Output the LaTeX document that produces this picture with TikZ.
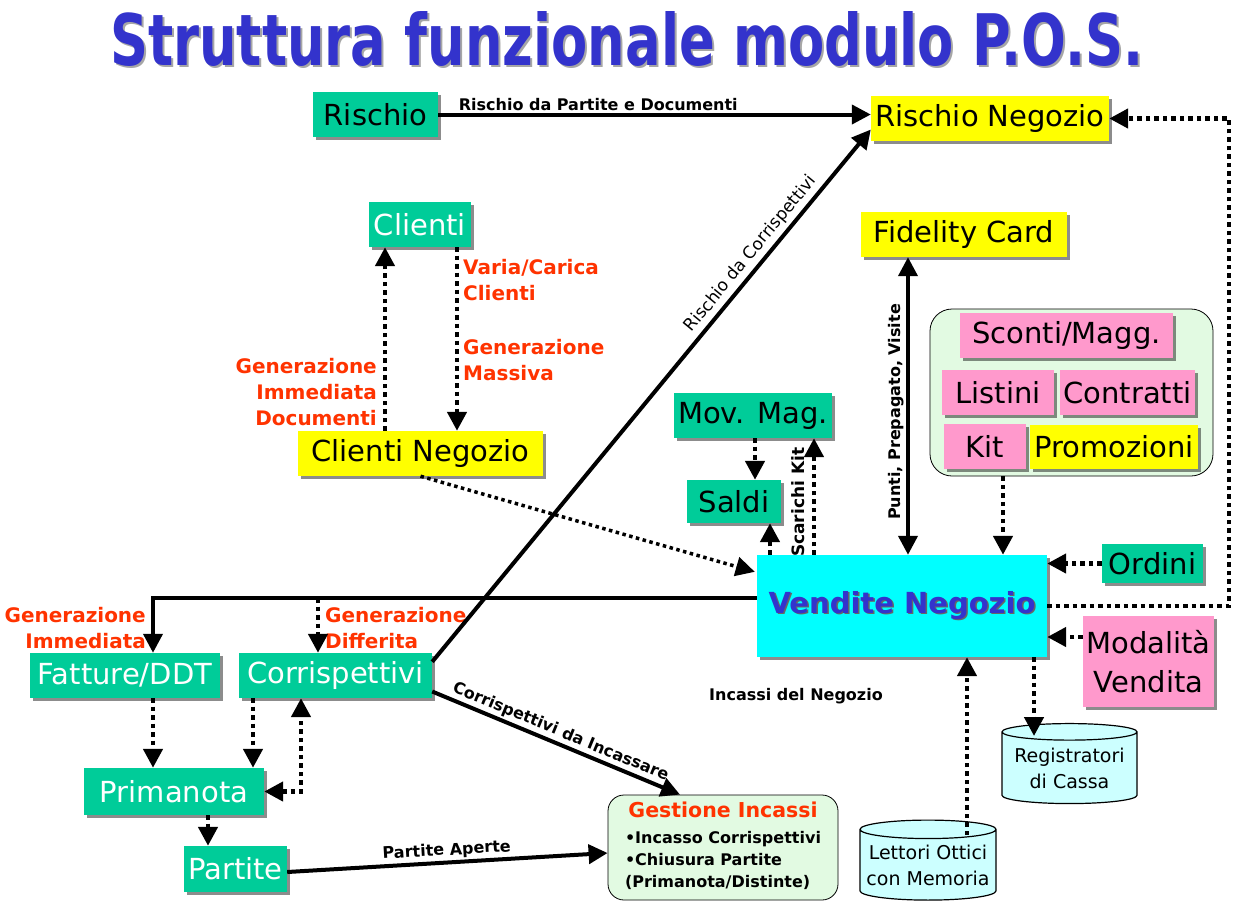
\documentclass[tikz,border=0pt]{standalone}
\usepackage{fontspec}
\setmainfont{DejaVu Sans}
\usepackage{graphicx}
\usepackage{xcolor}
\usepackage{tikz}
\usetikzlibrary{arrows.meta,shapes.geometric,shadows}
\definecolor{boxgreen}{RGB}{0,204,153}
\definecolor{boxyellow}{RGB}{255,255,0}
\definecolor{boxpink}{RGB}{255,153,204}
\definecolor{boxcyan}{RGB}{0,255,255}
\definecolor{cylcyan}{RGB}{204,255,255}
\definecolor{grpgreen}{RGB}{226,250,226}
\definecolor{titleblue}{RGB}{51,51,204}
\definecolor{labelred}{RGB}{255,51,0}
\newcommand{\shadetext}[3]{\makebox[0pt][l]{\hspace*{#2}\raisebox{-#2}{\textcolor{#1}{#3}}}#3}

\begin{document}
\begin{tikzpicture}[x=1pt,y=-1pt,
  >={Triangle[length=19pt,width=19pt]},
  box/.style={
    inner sep=0pt, font=\fontsize{29}{34}\selectfont,
    drop shadow={shadow xshift=2.5pt,shadow yshift=-2.5pt,fill=black,opacity=.45}
  },
  greenbox/.style={box, fill=boxgreen},
  yellowbox/.style={box, fill=boxyellow},
  pinkbox/.style={box, fill=boxpink},
  cylbox/.style={
    cylinder, shape border rotate=90, aspect=.15, draw, line width=1.2pt,
    fill=cylcyan, inner sep=0pt, align=center, font=\fontsize{19}{26}\selectfont
  },
  groupbox/.style={draw, line width=.8pt, rounded corners=22pt, fill=grpgreen},
  redlabel/.style={inner sep=0pt, text=labelred, font=\fontsize{20}{26}\selectfont\bfseries},
  smalllabel/.style={inner sep=2pt, font=\fontsize{16}{19}\selectfont\bfseries},
  solidarrow/.style={line width=4pt, ->},
  dotarrow/.style={line width=4.5pt, dash pattern=on 4.5pt off 4pt, ->}
]
\useasboundingbox (0,0) rectangle (1257,914);

\node[anchor=base west, inner sep=0pt, text=titleblue] (title) at (110,65)
  {\resizebox{1033pt}{54pt}{\fontsize{40}{40}\selectfont\bfseries\shadetext{black!35}{1.5pt}{Struttura funzionale modulo P.O.S.}}};

\node[greenbox, minimum width=125pt, minimum height=45pt] (rischio) at (375.5,114.5) {Rischio};
\node[yellowbox, minimum width=238pt, minimum height=45pt] (rischioneg) at (990,118.5) {Rischio Negozio};
\node[greenbox, text=white, minimum width=102pt, minimum height=45pt] (clienti) at (420,224.5) {Clienti};
\node[yellowbox, minimum width=245pt, minimum height=45pt] (clientineg) at (420.5,453.5) {Clienti Negozio};
\node[yellowbox, minimum width=206pt, minimum height=45pt] (fidelity) at (964,234.5) {Fidelity Card};

\node[groupbox, minimum width=283pt, minimum height=167pt] (listgroup) at (1071.5,392.5) {};
\node[pinkbox, minimum width=213pt, minimum height=45pt] (sconti) at (1066.5,335.5) {Sconti/Magg.};
\node[pinkbox, minimum width=112pt, minimum height=45pt] (listini) at (998,392.5) {Listini};
\node[pinkbox, minimum width=135pt, minimum height=45pt] (contratti) at (1127.5,392.5) {Contratti};
\node[pinkbox, minimum width=82pt, minimum height=45pt] (kit) at (985,446.5) {Kit};
\node[yellowbox, minimum width=168pt, minimum height=44pt] (promozioni) at (1114,447) {Promozioni};

\node[greenbox, minimum width=158pt, minimum height=45pt] (movmag) at (753,415.5) {Mov. Mag.};
\node[greenbox, minimum width=94pt, minimum height=43pt] (saldi) at (734,501.5) {Saldi};
\node[box, fill=boxcyan, minimum width=290pt, minimum height=102pt, text=titleblue,
  font=\fontsize{29}{34}\selectfont\bfseries] (vendite) at (902,606)
  {\shadetext{black!60}{1.5pt}{Vendite Negozio}};
\node[greenbox, minimum width=101pt, minimum height=39pt] (ordini) at (1152.5,563.5) {Ordini};
\node[pinkbox, minimum width=131pt, minimum height=91pt, align=center,
  font=\fontsize{29}{39}\selectfont] (modalita) at (1148.5,661.5) {Modalità\\Vendita};
\node[cylbox, minimum width=135pt, minimum height=80pt] (registratori) at (1069.5,768) {Registratori\\di Cassa};
\node[cylbox, minimum width=136pt, minimum height=80pt] (lettori) at (928,865) {Lettori Ottici\\con Memoria};

\node[greenbox, text=white, minimum width=190pt, minimum height=45pt] (fatture) at (125,675.5) {Fatture/DDT};
\node[greenbox, text=white, minimum width=193pt, minimum height=45pt] (corrisp) at (335.5,675.5) {Corrispettivi};
\node[greenbox, text=white, minimum width=180pt, minimum height=47pt] (primanota) at (174,791.5) {Primanota};
\node[greenbox, text=white, minimum width=103pt, minimum height=46pt] (partite) at (235.5,869) {Partite};
\node[groupbox, rounded corners=16pt, minimum width=230pt, minimum height=105pt,
  font=\fontsize{16}{22}\selectfont\bfseries] (gestione) at (723,847.5)
  {\begin{tabular}{@{}l@{}}
   \multicolumn{1}{@{}c@{}}{\fontsize{20.5}{22}\selectfont\color{labelred}Gestione Incassi}\\[4pt]
   •Incasso Corrispettivi\\
   •Chiusura Partite\\
   (Primanota/Distinte)
   \end{tabular}};

\node[smalllabel, anchor=base west, inner sep=0pt] (incassi) at (709,700) {Incassi del Negozio};
\node[redlabel, anchor=east, align=right] (genimmdoc) at (377,392) {Generazione\\Immediata\\Documenti};
\node[redlabel, anchor=west, align=left] (variacarica) at (463,280) {Varia/Carica\\Clienti};
\node[redlabel, anchor=west, align=left] (genmassiva) at (463,360) {Generazione\\Massiva};
\node[redlabel, anchor=east, align=right] (genimm) at (146,628) {Generazione\\Immediata};
\node[redlabel, anchor=west, align=left] (gendiff) at (325,628) {Generazione\\Differita};

\coordinate (split) at (318,598);
\coordinate (rback) at (1229,118.5);

\draw[solidarrow] (rischio.east) -- (rischio.east -| rischioneg.west)
  node[smalllabel, above, pos=.37] (lblpartdoc) {Rischio da Partite e Documenti};
\draw[solidarrow] ([yshift=-9pt]corrisp.north east) -- ([yshift=-11pt]rischioneg.west)
  node[pos=.75, sloped, above, font=\fontsize{17}{20}\selectfont] (lblcorr) {Rischio da Corrispettivi};
\draw[solidarrow] ([yshift=-16pt]corrisp.east) -- ([xshift=-43pt]gestione.north)
  node[smalllabel, midway, sloped, above] (lblincassare) {Corrispettivi da Incassare};
\draw[solidarrow] ([yshift=-3pt]partite.east) -- ([yshift=-5.5pt]gestione.west)
  node[smalllabel, midway, sloped, above] (lblaperte) {Partite Aperte};

\draw[solidarrow] ([yshift=8pt]vendite.west) -| ([xshift=28pt]fatture.north);
\draw[dotarrow] (split) -- ([xshift=-17.5pt]corrisp.north);
\draw[dotarrow] ([xshift=28pt]fatture.south) -- ([xshift=-21pt]primanota.north);
\draw[dotarrow] ([xshift=-82.5pt]corrisp.south) -- ([xshift=79pt]primanota.north);
\draw[dotarrow, <->] (primanota.east) -| ([xshift=-34.5pt]corrisp.south);
\draw[dotarrow] ([xshift=34pt]primanota.south) -- ([xshift=-27.5pt]partite.north);

\draw[dotarrow] ([xshift=-35.5pt]clientineg.north) -- ([xshift=-35pt]clienti.south);
\draw[dotarrow] ([xshift=37pt]clienti.south) -- ([xshift=36.5pt]clientineg.north);
\draw[dotarrow, line width=3.5pt, dash pattern=on 3.5pt off 3.5pt]
  (clientineg.south) -- ([xshift=-2pt,yshift=-17pt]vendite.north west);

\draw[dotarrow] ([xshift=2pt]movmag.south) -- ([xshift=21pt]saldi.north);
\draw[dotarrow] ([xshift=-132pt]vendite.north) -- ([xshift=36pt]saldi.south);
\draw[dotarrow] ([xshift=-88pt]vendite.north) -- ([xshift=61pt]movmag.south)
  node[smalllabel, font=\fontsize{17}{19}\selectfont\bfseries, pos=.45, sloped, above=5pt] (lblkit) {Scarichi Kit};
\draw[solidarrow, <->] ([xshift=6pt]vendite.north) -- ([xshift=-56pt]fidelity.south)
  node[smalllabel, pos=.48, sloped, above] (lblpunti) {Punti, Prepagato, Visite};
\draw[dotarrow] ([xshift=-68.5pt]listgroup.south) -- ([xshift=101pt]vendite.north);

\draw[dotarrow] (ordini.west) -- (ordini.west -| vendite.east);
\draw[dotarrow] ([yshift=24.5pt]modalita.west) -- ([yshift=-31pt]vendite.east);
\draw[dotarrow] (vendite.east) -| (rback) -- (rischioneg.east);

\draw[dotarrow] ([xshift=132pt]vendite.south) -- ([xshift=-35.5pt,yshift=32pt]registratori.center);
\draw[dotarrow] ([xshift=39pt,yshift=30pt]lettori.center) -- ([xshift=65pt]vendite.south);
\end{tikzpicture}
\end{document}
